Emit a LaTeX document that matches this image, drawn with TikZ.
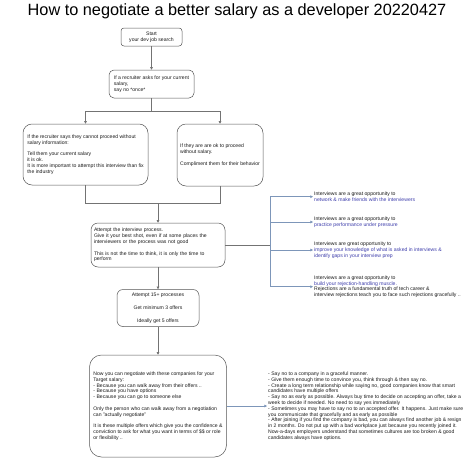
\documentclass[tikz,border=0pt]{standalone}
\usepackage{fontspec}
\setmainfont{Liberation Sans}
\usetikzlibrary{arrows.meta}
\definecolor{boxline}{RGB}{85,85,85}
\definecolor{conline}{RGB}{115,115,115}
\definecolor{noteline}{RGB}{125,150,185}
\definecolor{noteblue}{RGB}{60,60,170}
\definecolor{txtgray}{RGB}{25,25,25}

\begin{document}
\begin{tikzpicture}[x=1pt,y=-1pt,
  every node/.style={font=\fontsize{5.1}{5.8}\selectfont, text=txtgray},
  box/.style={draw=boxline, line width=0.5pt, rounded corners=#1, align=left, inner sep=1.5pt},
  box/.default=8pt,
  conn/.style={draw=conline, line width=0.6pt},
  arr/.style={conn, -{Triangle[length=2.6pt,width=2.6pt]}},
  notearr/.style={draw=noteline, line width=0.6pt, -{Triangle[length=2.6pt,width=2.6pt]}},
  note/.style={anchor=west, align=left, inner sep=1pt}]
  \useasboundingbox (0,0) rectangle (474,458);

  % title
  \node[font=\fontsize{16.3}{19}\selectfont, text=black] (title) at (237,11)
    {How to negotiate a better salary as a developer 20220427};

  % main column
  \node[box=3pt, align=center, minimum width=61pt, minimum height=18pt] (start) at (151.5,37)
    {Start\\your dev job search};
  \node[box=5pt, minimum width=85pt, minimum height=28pt] (recruit) at (151.5,84)
    {If a recruiter asks for your current\\salary,\\say no *once*};
  \node[box=9pt, minimum width=125pt, minimum height=61pt] (ifno) at (85.5,154.5)
    {If the recruiter says they cannot proceed without\\salary information:\\[5.8pt]
     Tell them your current salary\\it is ok.\\It is more important to attempt this interview than fix\\the industry};
  \node[box=9pt, minimum width=86pt, minimum height=62pt] (ifok) at (220,155)
    {If they are are ok to proceed\\without salary.\\[5.8pt]Compliment them for their behavior};
  \node[box=7pt, text width=128pt, inner xsep=3pt, minimum height=44pt] (interview) at (158,245)
    {Attempt the interview process.\\Give it your best shot, even if at some places the\\
     interviewers or the process was not good\\[5.8pt]
     This is not the time to think, it is only the time to\\perform};
  \node[box=6pt, align=center, minimum width=82pt, minimum height=37pt] (attempt) at (158,308)
    {Attempt 15+ processes\\[7pt]Get minimum 3 offers\\[7pt]Ideally get 5 offers};
  \node[box=12pt, minimum width=137pt, minimum height=102pt] (negotiate) at (158,406)
    {Now you can negotiate with these companies for your\\Target salary:\\
     - Because you can walk away from their offers ..\\- Because you have options\\
     - Because you can go to someone else\\[5.8pt]
     Only the person who can walk away from a negotiation\\can "actually negotiate"\\[5.8pt]
     It is these multiple offers which give you the confidence \&\\
     conviction to ask for what you want in terms of \$\$ or role\\or flexibility ..};

  % side notes
  \node[note] (network) at (313,196.7)
    {Interviews are a great opportunity to\\\textcolor{noteblue}{network \& make friends with the interviewers}};
  \node[note] (practice) at (313,222)
    {Interviews are a great opportunity to\\\textcolor{noteblue}{practice performance under pressure}};
  \node[note] (improve) at (313,250)
    {Interviews are great opportunity to\\\textcolor{noteblue}{improve your knowledge of what is asked in interviews \&}\\
     \textcolor{noteblue}{identify gaps in your interview prep}};
  \node[note] (muscle) at (313,286.7)
    {Interviews are a great opportunity to\\\textcolor{noteblue}{build your rejection-handling muscle.}\\
     Rejections are a fundamental truth of tech career \&\\
     interview rejections teach you to face such rejections gracefully ..};
  \node[note] (advice) at (267,406)
    {- Say no to a company in a graceful manner.\\
     - Give them enough time to convince you, think through \& then say no.\\
     - Create a long term relationship while saying no, good companies know that smart\\
     candidates have multiple offers\\
     - Say no as early as possible. Always buy time to decide on accepting an offer, take a\\
     week to decide if needed. No need to say yes immediately\\
     - Sometimes you may have to say no to an accepted offer. It happens. Just make sure\\
     you communicate that gracefully and as early as possible\\
     - After joining if you find the company is bad, you can always find another job \& resign\\
     in 2 months. Do not put up with a bad workplace just because you recently joined it.\\
     Now-a-days employers understand that sometimes cultures are too broken \& good\\
     candidates always have options.};

  % connectors
  \coordinate (split) at (151.5,111);
  \coordinate (merge) at (158,203);
  \coordinate (fork) at (270,245);
  \draw[arr] (start) -- (recruit);
  \draw[conn] (recruit) -- (split);
  \draw[arr] (split) -| (ifno);
  \draw[arr] (split) -| (ifok);
  \draw[conn] (ifno) |- (merge);
  \draw[conn] (ifok) |- (merge);
  \draw[arr] (merge) -- (interview);
  \draw[arr] (interview) -- (attempt);
  \draw[arr] (attempt) -- (negotiate);
  \draw[conn] (interview) -- (fork);
  \draw[notearr] (fork) |- (network);
  \draw[notearr] (fork) |- (practice);
  \draw[notearr] (fork) |- (improve);
  \draw[notearr] (fork) |- (muscle);
  \draw[notearr] (negotiate) -- (advice);
\end{tikzpicture}
\end{document}
